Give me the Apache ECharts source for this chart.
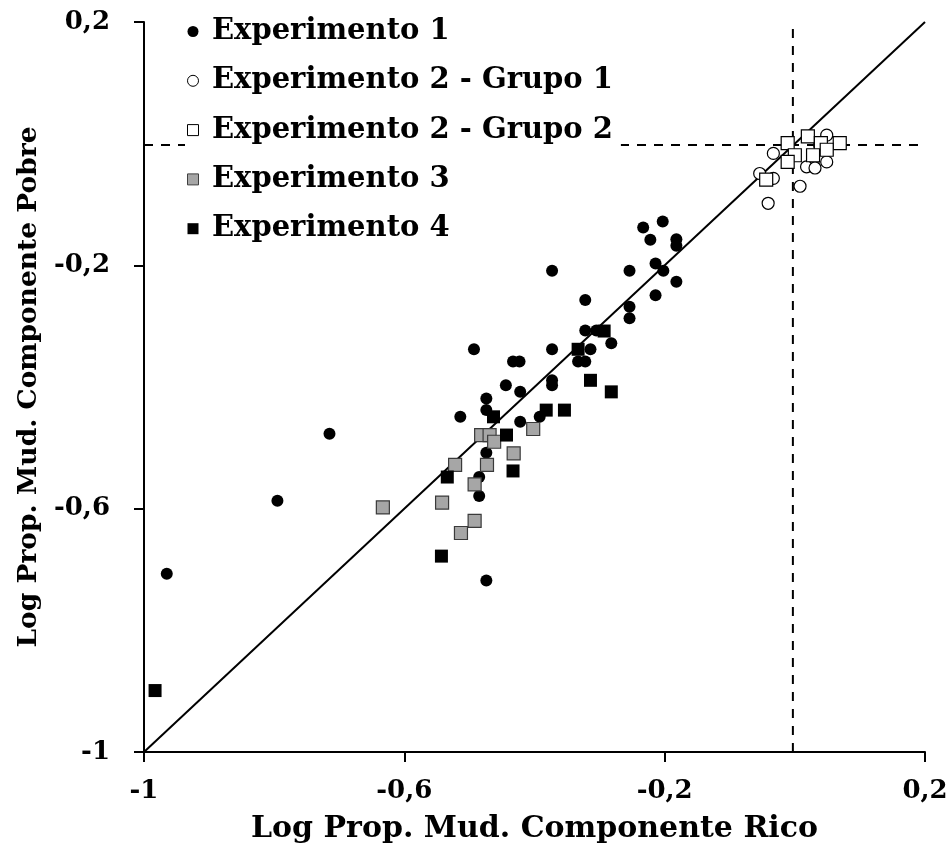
<!DOCTYPE html>
<html><head><meta charset="utf-8">
<script src="https://cdn.jsdelivr.net/npm/echarts@6/dist/echarts.min.js"></script>
<style>html,body{margin:0;padding:0;background:#fff}#c{width:951px;height:852px}</style>
</head><body><div id="c"></div>
<script>
// Series names
const seriesNames = ['Experimento 1', 'Experimento 2 - Grupo 1', 'Experimento 2 - Grupo 2', 'Experimento 3', 'Experimento 4'];
const xAxisTitle = 'Log Prop. Mud. Componente Rico';
const yAxisTitle = 'Log Prop. Mud. Componente Pobre';
const axisMin = -1, axisMax = 0.2, axisStep = 0.4;

// [x, y] values
const exp1 = [
  [-0.965,-0.707],[-0.795,-0.587],[-0.715,-0.477],[-0.493,-0.338],[-0.514,-0.449],
  [-0.474,-0.419],[-0.474,-0.438],[-0.444,-0.397],[-0.422,-0.408],[-0.422,-0.457],
  [-0.392,-0.449],[-0.373,-0.389],[-0.373,-0.397],[-0.474,-0.508],[-0.485,-0.548],
  [-0.485,-0.579],[-0.474,-0.718],[-0.433,-0.358],[-0.423,-0.358],[-0.333,-0.358],
  [-0.322,-0.358],[-0.373,-0.338],[-0.314,-0.338],[-0.322,-0.307],[-0.305,-0.307],
  [-0.282,-0.328],[-0.322,-0.257],[-0.373,-0.209],[-0.254,-0.209],[-0.254,-0.268],
  [-0.254,-0.287],[-0.214,-0.249],[-0.214,-0.197],[-0.202,-0.209],[-0.182,-0.227],
  [-0.233,-0.138],[-0.203,-0.128],[-0.222,-0.158],[-0.182,-0.157],[-0.182,-0.168]
];
const exp2g1 = [
  [0.049,0.014],[-0.033,-0.016],[0.038,-0.002],[0.028,-0.030],[0.049,-0.030],
  [0.018,-0.038],[0.031,-0.040],[-0.054,-0.049],[-0.033,-0.057],[0.008,-0.070],[-0.041,-0.098]
];
const exp2g2 = [
  [-0.011,0.001],[0.020,0.012],[0.040,0.001],[0.069,0.001],[0.000,-0.019],
  [0.028,-0.019],[0.049,-0.010],[-0.011,-0.030],[-0.044,-0.059]
];
const exp3 = [
  [-0.482,-0.479],[-0.469,-0.479],[-0.462,-0.490],[-0.402,-0.469],[-0.432,-0.509],
  [-0.522,-0.528],[-0.473,-0.528],[-0.492,-0.560],[-0.633,-0.598],[-0.542,-0.590],
  [-0.492,-0.620],[-0.513,-0.640]
];
const exp4 = [
  [-0.983,-0.899],[-0.463,-0.449],[-0.382,-0.438],[-0.354,-0.438],[-0.314,-0.389],
  [-0.282,-0.408],[-0.443,-0.479],[-0.534,-0.548],[-0.433,-0.538],[-0.543,-0.678],
  [-0.333,-0.338],[-0.293,-0.308]
];
// reference lines
const identityLine = [[-1,-1],[0.2,0.2]];
const vRefLine = [[-0.003,-1],[-0.003,0.2]];
const hRefLine = [[-1,-0.002],[0.2,-0.002]];

const FONT = 'DejaVu Serif';
const fmt = v => String(Math.round(v * 10) / 10).replace('.', ',');
const SQUARE = 'path://M0,0L10,0L10,10L0,10Z';

const chart = echarts.init(document.getElementById('c'), null, {renderer: 'canvas'});

const axisCommon = {
  type: 'value', min: axisMin, max: axisMax, interval: axisStep,
  nameLocation: 'middle',
  axisLine: {show: true, onZero: false, lineStyle: {color: '#000', width: 2}},
  axisTick: {show: true, inside: false, length: 10, lineStyle: {color: '#000', width: 2}},
  splitLine: {show: false},
  axisLabel: {color: '#000', fontFamily: FONT, fontWeight: 'bold', fontSize: 26, formatter: fmt},
  nameTextStyle: {color: '#000', fontFamily: FONT, fontWeight: 'bold'}
};

const option = {
  backgroundColor: '#fff',
  animation: false,
  grid: {left: 144, right: 26, top: 22, bottom: 100, containLabel: false, outerBoundsMode: 'none'},
  xAxis: Object.assign({}, axisCommon, {
    name: xAxisTitle, nameGap: 62,
    axisLabel: Object.assign({}, axisCommon.axisLabel, {margin: 26}),
    nameTextStyle: Object.assign({}, axisCommon.nameTextStyle, {fontSize: 30})
  }),
  yAxis: Object.assign({}, axisCommon, {
    name: yAxisTitle, nameGap: 98,
    axisLabel: Object.assign({}, axisCommon.axisLabel, {margin: 34}),
    nameTextStyle: Object.assign({}, axisCommon.nameTextStyle, {fontSize: 26.5})
  }),
  legend: {
    orient: 'vertical', left: 185, top: 15,
    padding: [2, 8, 2, 2],
    backgroundColor: '#fff',
    itemWidth: 28, itemHeight: 11, itemGap: 20.3,
    symbolKeepAspect: true,
    textStyle: {color: '#000', fontFamily: FONT, fontWeight: 'bold', fontSize: 29, lineHeight: 29},
    data: [
      {name: seriesNames[0], icon: 'circle', itemStyle: {color: '#000', borderWidth: 0}},
      {name: seriesNames[1], icon: 'circle', itemStyle: {color: '#fff', borderColor: '#000', borderWidth: 1}},
      {name: seriesNames[2], icon: SQUARE, itemStyle: {color: '#fff', borderColor: '#000', borderWidth: 1}},
      {name: seriesNames[3], icon: SQUARE, itemStyle: {color: '#a6a6a6', borderColor: '#404040', borderWidth: 1}},
      {name: seriesNames[4], icon: SQUARE, itemStyle: {color: '#000', borderWidth: 0}}
    ]
  },
  series: [
    {type: 'line', data: identityLine, symbol: 'none', silent: true, z: 1,
      lineStyle: {color: '#000', width: 2}},
    {type: 'line', data: vRefLine, symbol: 'none', silent: true, z: 1,
      lineStyle: {color: '#000', width: 2, type: [9, 8]}},
    {type: 'line', data: hRefLine, symbol: 'none', silent: true, z: 1,
      lineStyle: {color: '#000', width: 2, type: [9, 8]}},
    {name: seriesNames[0], type: 'scatter', data: exp1, symbol: 'circle', symbolSize: 12,
      itemStyle: {color: '#000', opacity: 1}},
    {name: seriesNames[1], type: 'scatter', data: exp2g1, symbol: 'circle', symbolSize: 12,
      itemStyle: {color: '#fff', borderColor: '#000', borderWidth: 1.2, opacity: 1}},
    {name: seriesNames[2], type: 'scatter', data: exp2g2, symbol: 'rect', symbolSize: 13,
      itemStyle: {color: '#fff', borderColor: '#000', borderWidth: 1.2, opacity: 1}},
    {name: seriesNames[3], type: 'scatter', data: exp3, symbol: 'rect', symbolSize: 13,
      itemStyle: {color: '#a6a6a6', borderColor: '#3a3a3a', borderWidth: 1.2, opacity: 1}},
    {name: seriesNames[4], type: 'scatter', data: exp4, symbol: 'rect', symbolSize: 13,
      itemStyle: {color: '#000', opacity: 1}}
  ]
};
chart.setOption(option);
</script>
</body></html>
